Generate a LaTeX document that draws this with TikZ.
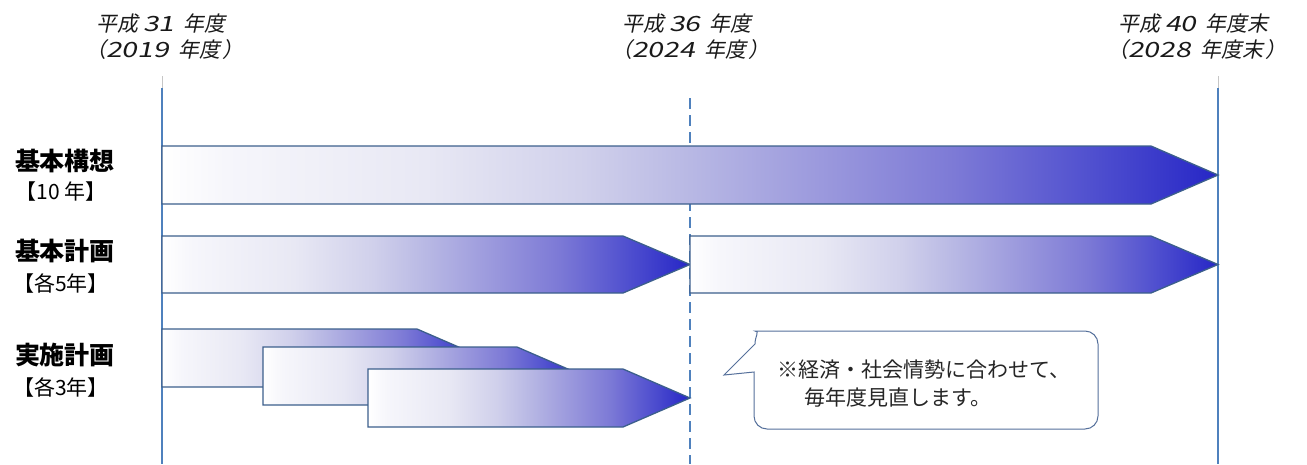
\documentclass[tikz,border=0pt]{standalone}
\usepackage{fontspec}
\newfontfamily\jp{Noto Sans CJK JP}
\newfontfamily\jpsl[FakeSlant=0.2]{Noto Sans CJK JP}
\newfontfamily\jpnum[FakeSlant=0.2,FakeStretch=1.35]{Noto Sans CJK JP}
\newcommand\dg[1]{{\jpnum #1}}
\definecolor{vline}{RGB}{79,129,189}
\definecolor{barline}{RGB}{60,95,140}
\definecolor{callline}{RGB}{85,112,155}
\definecolor{sA}{RGB}{246,246,251}
\definecolor{sB}{RGB}{232,232,244}
\definecolor{sC}{RGB}{208,208,235}
\definecolor{sD}{RGB}{184,184,228}
\definecolor{sE}{RGB}{156,154,221}
\definecolor{sF}{RGB}{125,122,214}
\definecolor{sG}{RGB}{80,80,207}
\definecolor{sH}{RGB}{38,38,198}
\pgfdeclarehorizontalshading{barshade}{100bp}{color(0bp)=(white); color(25bp)=(white); color(28bp)=(sA); color(37.5bp)=(sB); color(45bp)=(sC); color(50bp)=(sD); color(56bp)=(sE); color(62.5bp)=(sF); color(69bp)=(sG); color(75bp)=(sH); color(100bp)=(sH)}
\newcommand\tlbar[4]{%
  \shadedraw[barbox] (#1,#3) -- ({#2-67},#3) -- (#2,{(#3+#4)/2}) -- ({#2-67},#4) -- (#1,#4) -- cycle;}
\begin{document}
\begin{tikzpicture}[x=1pt,y=-1pt,
  vl/.style={draw=vline,line width=2.5pt},
  vtop/.style={draw=gray!45,line width=0.8pt},
  dl/.style={draw=vline,line width=1.5pt,dash pattern=on 11pt off 6pt},
  barbox/.style={draw=barline,line width=1.3pt,shading=barshade,line join=miter},
  toplab/.style={font=\jpsl\fontsize{21}{23}\selectfont,inner sep=0pt,anchor=west,text=black!90},
  rowlab/.style={font=\jp\bfseries\fontsize{25}{27}\selectfont,inner sep=0pt},
  rowsub/.style={font=\jp\fontsize{21}{23}\selectfont,inner sep=0pt},
  callout/.style={draw=callline,line width=1pt,fill=white},
  calltext/.style={font=\jp\fontsize{21}{23}\selectfont,inner sep=0pt,anchor=west,text=black!85}]
\path[use as bounding box] (0,0) rectangle (1307,464);
% timeline lines
\coordinate (l0a) at (162,76); \coordinate (l0b) at (162,88); \coordinate (l0c) at (162,464);
\coordinate (l1a) at (690,98); \coordinate (l1c) at (690,464);
\coordinate (l2a) at (1218,76); \coordinate (l2b) at (1218,88); \coordinate (l2c) at (1218,464);
\draw[vtop] (l0a) -- (l0b);
\draw[vtop] (l2a) -- (l2b);
\draw[vl] (l0b) -- (l0c);
\draw[vl] (l2b) -- (l2c);
\draw[dl] (l1a) -- (l1c);
% top labels
\node[toplab] (t1a) at (96,24) {平成\hspace{5pt}\dg{31}\hspace{9pt}年度};
\node[toplab] (t1b) at (85,50) {（\dg{2019}\hspace{9pt}年度\hspace{2pt}）};
\node[toplab] (t2a) at (622,24) {平成\hspace{5pt}\dg{36}\hspace{9pt}年度};
\node[toplab] (t2b) at (611,50) {（\dg{2024}\hspace{9pt}年度\hspace{2pt}）};
\node[toplab] (t3a) at (1118,24) {平成\hspace{5pt}\dg{40}\hspace{9pt}年度末};
\node[toplab] (t3b) at (1107,50) {（\dg{2028}\hspace{9pt}年度末\hspace{2pt}）};
% row labels
\node[rowlab] (r1) at (65,161) {基本構想};
\node[rowsub] (r1s) at (61,192) {【10 年】};
\node[rowlab] (r2) at (65,251) {基本計画};
\node[rowsub] (r2s) at (61,283) {【各5年】};
\node[rowlab] (r3) at (65,355) {実施計画};
\node[rowsub] (r3s) at (61,387) {【各3年】};
% bars
\tlbar{162}{1218}{146}{204}
\tlbar{162}{690}{236}{293}
\tlbar{690}{1218}{236}{293}
\tlbar{162}{484}{329}{387}
\tlbar{263}{584}{347}{405}
\tlbar{368}{690}{369}{427}
% callout
\draw[callout] (754,372) [rounded corners=13pt] -- (754,429) -- (1098,429) -- (1098,331) -- (768,331) [sharp corners] .. controls (760,331) and (755,336) .. (755,344) -- (724,375) -- cycle;
\node[calltext] (c1) at (777,370) {※経済・社会情勢に合わせて、};
\node[calltext] (c2) at (804,398) {毎年度見直します。};
\end{tikzpicture}
\end{document}
